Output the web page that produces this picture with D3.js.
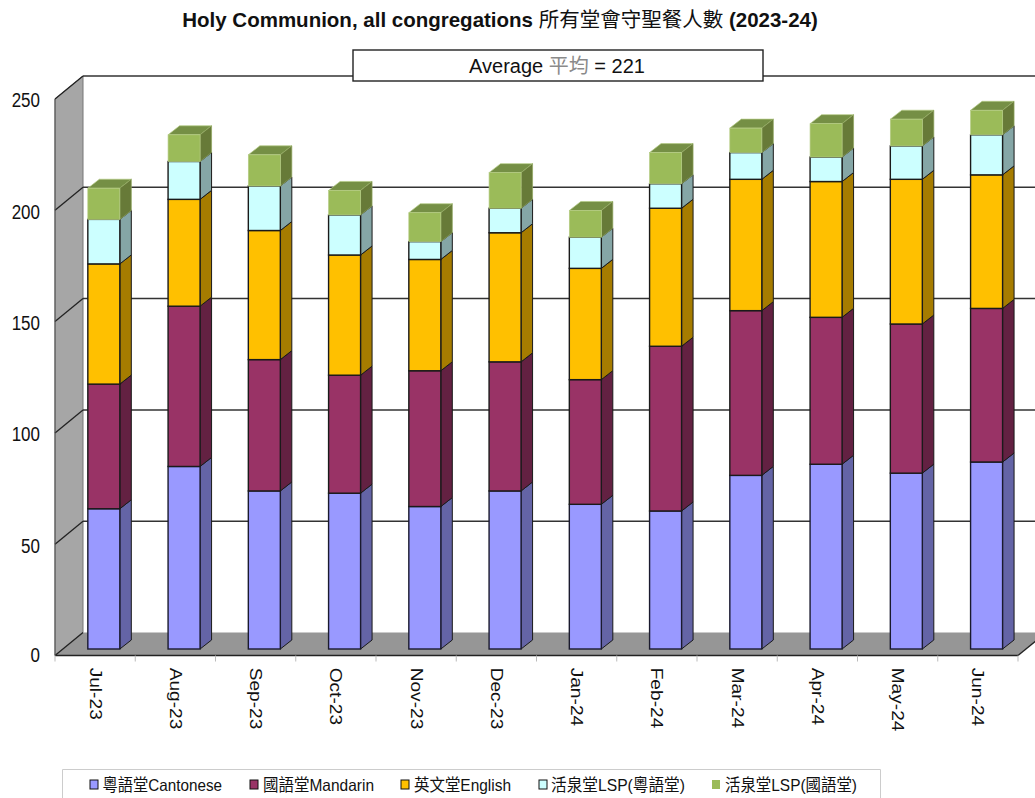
<!DOCTYPE html>
<html>
<head>
<meta charset="utf-8">
<script src="https://cdn.jsdelivr.net/npm/d3@7"></script>
<style>
  html, body { margin: 0; padding: 0; background: #fff; overflow: hidden; }
  text { font-family: "Liberation Sans", "Noto Sans CJK TC", sans-serif; fill: #111; }
</style>
</head>
<body>
<div id="chart"></div>
<script>
const months = ["Jul-23","Aug-23","Sep-23","Oct-23","Nov-23","Dec-23","Jan-24","Feb-24","Mar-24","Apr-24","May-24","Jun-24"];
const cantonese = [63,82,71,70,64,71,65,62,78,83,79,84];
const mandarin  = [56,72,59,53,61,58,56,74,74,66,67,69];
const english   = [54,48,58,54,50,58,50,62,59,61,65,60];
const lspCant   = [20,17,20,18,8,11,14,11,12,11,15,18];
const lspMand   = [14,12,14,11,13,16,12,14,11,15,12,11];
const seriesNames = ["粵語堂Cantonese","國語堂Mandarin","英文堂English","活泉堂LSP(粵語堂)","活泉堂LSP(國語堂)"];
const yTicks = [0,50,100,150,200,250];

const width = 1035, height = 798;
const depth = { dx: 28, dy: -23 };      // wall depth
const barDepth = { dx: 11.5, dy: -9 };
const barShift = { dx: 8.7, dy: -6.5 }; // bars stand inside the floor
const barWidth = 32;

const fronts = ["#9999ff","#993366","#ffc000","#ccffff","#9bbb59"];
const sides  = ["#6464a6","#632142","#a67c00","#85a6a6","#677a38"];
const strokes = ["#1a1a2e","#1a1a1a","#1a1a1a","#1a1a1a","#b5cc85"];

const x = d3.scaleBand().domain(months).range([55, 1018]);
const y = d3.scaleLinear().domain([0, 250]).range([655.5, 99]);

const svg = d3.select("#chart").append("svg")
  .attr("width", width).attr("height", height)
  .attr("viewBox", [0, 0, width, height])
  .style("display", "block");

const x0 = x.range()[0], x1 = x.range()[1];
const poly = pts => pts.map(p => p.join(",")).join(" ");

// left wall and floor
svg.append("polygon")
  .attr("points", poly([[x0, y(250)], [x0 + depth.dx, y(250) + depth.dy], [x0 + depth.dx, y(0) + depth.dy], [x0, y(0)]]))
  .attr("fill", "#a6a6a6").attr("stroke", "#777").attr("stroke-width", 1);
svg.append("polygon")
  .attr("points", poly([[x0, y(0)], [x0 + depth.dx, y(0) + depth.dy], [x1 + depth.dx, y(0) + depth.dy], [x1, y(0)]]))
  .attr("fill", "#969696");

// gridlines: back wall + diagonal on the side wall
svg.append("g").selectAll("line.back")
  .data(yTicks.filter(d => d > 0))
  .join("line")
  .attr("x1", x0 + depth.dx).attr("x2", width)
  .attr("y1", d => y(d) + depth.dy).attr("y2", d => y(d) + depth.dy)
  .attr("stroke", "#333").attr("stroke-width", 1.5);
svg.append("g").selectAll("line.diag")
  .data(yTicks)
  .join("line")
  .attr("x1", x0).attr("x2", x0 + depth.dx)
  .attr("y1", d => y(d)).attr("y2", d => y(d) + depth.dy)
  .attr("stroke", "#222").attr("stroke-width", 1.3);

svg.append("line")
  .attr("x1", x0).attr("x2", x1).attr("y1", y(0)).attr("y2", y(0))
  .attr("stroke", "#222").attr("stroke-width", 1.5);
svg.append("line")
  .attr("x1", x1).attr("x2", x1 + depth.dx).attr("y1", y(0)).attr("y2", y(0) + depth.dy)
  .attr("stroke", "#222").attr("stroke-width", 1.3);

// axes
const yAxis = svg.append("g")
  .attr("transform", `translate(${x0},0)`)
  .call(d3.axisLeft(y).tickValues(yTicks).tickSize(0).tickPadding(15))
  .call(g => g.select(".domain").attr("stroke", "#555").attr("d", `M0,${y(250)}V${y(0)}`));
yAxis.selectAll("text")
  .attr("font-size", 17).style("font-family", "Liberation Sans")
  .attr("dy", d => d === 0 ? "0.32em" : "0.42em")
  .style("transform-box", "fill-box").style("transform-origin", "center")
  .style("transform", "scaleY(1.14)");

const xAxis = svg.append("g")
  .attr("transform", `translate(0,${y(0)})`)
  .call(d3.axisBottom(x).tickSize(0))
  .call(g => g.select(".domain").remove());
xAxis.selectAll("text")
  .attr("font-size", 16.5).style("font-family", "Liberation Sans")
  .attr("text-anchor", "start")
  .attr("transform", "rotate(90) scale(1.16,1)")
  .attr("x", 10.5).attr("y", 0).attr("dy", "0.34em");
svg.append("g").selectAll("line")
  .data(d3.range(months.length + 1))
  .join("line")
  .attr("x1", i => x0 + i * x.step()).attr("x2", i => x0 + i * x.step())
  .attr("y1", y(0)).attr("y2", y(0) + 6)
  .attr("stroke", "#bbb");

// stacked bars
const rows = months.map((m, i) => ({ month: m, s0: cantonese[i], s1: mandarin[i], s2: english[i], s3: lspCant[i], s4: lspMand[i] }));
const stacked = d3.stack().keys(["s0","s1","s2","s3","s4"])(rows);

const barG = svg.append("g");
months.forEach((m, mi) => {
  const bx = x(m) + x.bandwidth() / 2 + barShift.dx - barWidth / 2;
  const g = barG.append("g");
  stacked.forEach((layer, si) => {
    const yb = y(layer[mi][0]) + barShift.dy;
    const yt = y(layer[mi][1]) + barShift.dy;
    const rx = bx + barWidth;
    if (si === stacked.length - 1) {
      g.append("polygon")
        .attr("points", poly([[bx, yt], [bx + barDepth.dx, yt + barDepth.dy], [rx + barDepth.dx, yt + barDepth.dy], [rx, yt]]))
        .attr("fill", "#758f45").attr("stroke", strokes[si]).attr("stroke-width", 0.7);
    }
    g.append("polygon")
      .attr("points", poly([[rx, yb], [rx + barDepth.dx, yb + barDepth.dy], [rx + barDepth.dx, yt + barDepth.dy], [rx, yt]]))
      .attr("fill", sides[si]).attr("stroke", si === 4 ? "#8fa65e" : "#1a1a1a").attr("stroke-width", si === 4 ? 0.7 : 1);
    g.append("rect")
      .attr("x", bx).attr("y", yt)
      .attr("width", barWidth).attr("height", yb - yt)
      .attr("fill", fronts[si]).attr("stroke", strokes[si]).attr("stroke-width", si === 4 ? 0.7 : 1.4);
  });
});

// title
const title = svg.append("text")
  .attr("x", 500).attr("y", 27).attr("text-anchor", "middle")
  .attr("font-size", 20.5).attr("font-weight", "bold");
title.append("tspan").text("Holy Communion, all congregations ");
title.append("tspan").attr("font-weight", "normal").text("所有堂會守聖餐人數");
title.append("tspan").text(" (2023-24)");

// average box
svg.append("rect")
  .attr("x", 353).attr("y", 50).attr("width", 410).attr("height", 31)
  .attr("fill", "#fff").attr("stroke", "#222").attr("stroke-width", 1.4);
const avg = svg.append("text").attr("x", 557).attr("y", 73).attr("text-anchor", "middle").attr("font-size", 20);
avg.append("tspan").text("Average  ");
avg.append("tspan").style("fill", "#8a8a8a").text("平均");
avg.append("tspan").text(" = 221");

// legend
svg.append("path")
  .attr("d", "M62.5,798V769.5H880.5V798")
  .attr("fill", "none").attr("stroke", "#ccc").attr("stroke-width", 1);
const legendX = [90, 250, 401, 539, 712];
const legendTextX = [102.5, 263, 414, 551, 725];
const legendEnd = [222, 374, 511, 685, 857];
const legend = svg.append("g").selectAll("g")
  .data(seriesNames)
  .join("g");
legend.append("rect")
  .attr("x", (d, i) => legendX[i]).attr("y", 780).attr("width", 8).attr("height", 9)
  .attr("fill", (d, i) => fronts[i])
  .attr("stroke", (d, i) => i === 4 ? "none" : "#111").attr("stroke-width", 1);
legend.append("text")
  .attr("x", (d, i) => legendTextX[i]).attr("y", 791)
  .attr("font-size", 16.5)
  .attr("textLength", (d, i) => legendEnd[i] - legendTextX[i])
  .attr("lengthAdjust", "spacingAndGlyphs")
  .text(d => d);
</script>
</body>
</html>
